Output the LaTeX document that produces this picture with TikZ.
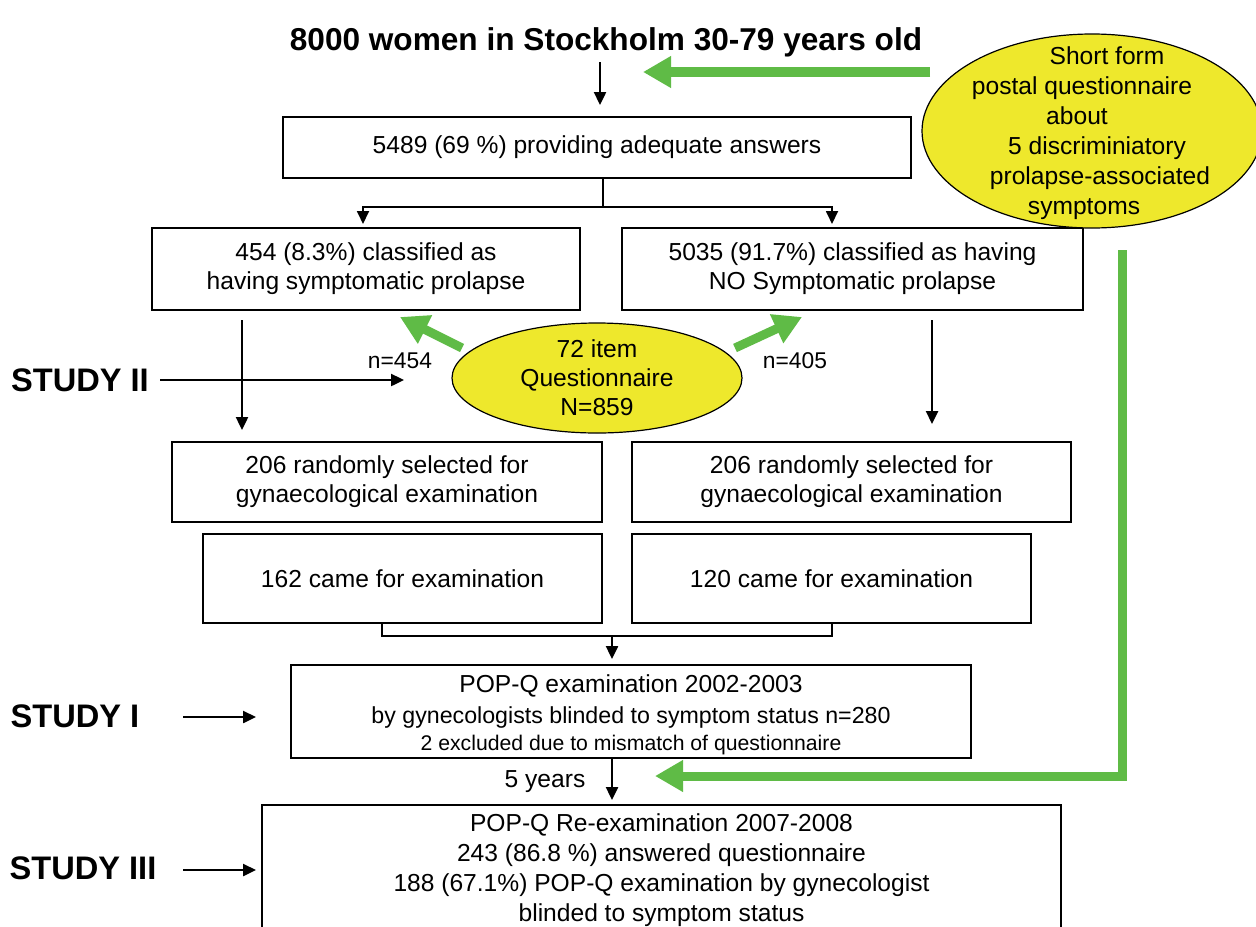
\documentclass[tikz,border=0pt]{standalone}
\usepackage{fontspec}
\setmainfont{Liberation Sans}
\usetikzlibrary{arrows.meta,shapes.geometric,calc}
\definecolor{ggreen}{HTML}{5FBB46}
\definecolor{gyellow}{HTML}{EEE82C}
\tikzset{
  box/.style={draw=black, line width=0.7pt, rectangle, inner sep=0pt, align=center,
    font=\fontsize{12.3}{14.5}\selectfont},
  txt/.style={inner sep=0pt, align=center, font=\fontsize{12.3}{14.5}\selectfont},
  small/.style={inner sep=0pt, font=\fontsize{11.4}{13}\selectfont},
  study/.style={inner sep=0pt, font=\fontsize{16.3}{18}\selectfont\bfseries},
  yell/.style={ellipse, draw=black, line width=0.6pt, fill=gyellow, inner sep=0pt},
  conn/.style={line width=0.8pt},
  arr/.style={line width=1.2pt, -{Triangle[length=6.5pt,width=6pt]}},
  garr/.style={draw=ggreen, line width=5pt, -{Triangle[length=14pt,width=15pt]}},
}
\begin{document}
\begin{tikzpicture}[x=0.5pt,y=-0.5pt]
\clip (0,0) rectangle (1256,926);
\useasboundingbox (0,0) rectangle (1256,926);
\fill[white] (0,0) rectangle (1256,926);

% title
\node[inner sep=0pt, font=\fontsize{15.8}{18}\selectfont\bfseries] (title) at (606,42)
  {8000 women in Stockholm 30-79 years old};

% boxes
\node[box, minimum width=314pt, minimum height=30.5pt] (b1) at (597,147.5)
  {\raisebox{-1.5pt}{5489 (69 \%) providing adequate answers}};
\node[box, minimum width=214pt, minimum height=41pt] (bL) at (366,269)
  {454 (8.3\%) classified as\\having symptomatic prolapse};
\node[box, minimum width=230.5pt, minimum height=41pt] (bR) at (852.5,269)
  {5035 (91.7\%) classified as having\\NO Symptomatic prolapse};
\node[box, minimum width=215pt, minimum height=40pt] (bL2) at (387,482)
  {206 randomly selected for\\gynaecological examination};
\node[box, minimum width=219.5pt, minimum height=40pt] (bR2) at (851.5,482)
  {206 randomly selected for\\gynaecological examination};
\node[box, minimum width=199.5pt, minimum height=44.5pt] (bL3) at (402.5,578.5)
  {162 came for examination};
\node[box, minimum width=199.5pt, minimum height=44.5pt] (bR3) at (831.5,578.5)
  {120 came for examination};
\node[box, minimum width=340pt, minimum height=46.5pt] (bP) at (631,711.5) {};
\node[txt] (tP1) at (631,686) {\fontsize{12.3}{14}\selectfont POP-Q examination 2002-2003};
\node[txt] (tP2) at (631,717) {\fontsize{11.6}{14}\selectfont by gynecologists blinded to symptom status n=280};
\node[txt] (tP3) at (631,745) {\fontsize{10.6}{12}\selectfont 2 excluded due to mismatch of questionnaire};
\node[box, minimum width=399.5pt, minimum height=80pt] (bIII) at (661.5,885) {};
\node[txt, font=\fontsize{12.3}{15}\selectfont] (tIII) at (661.5,870)
  {POP-Q Re-examination 2007-2008\\243 (86.8 \%) answered questionnaire\\188 (67.1\%) POP-Q examination by gynecologist\\blinded to symptom status};

% study labels
\node[study] (s2) at (80,380) {STUDY II};
\node[study] (s1) at (75,716) {STUDY I};
\node[study] (s3) at (83,868) {STUDY III};
\node[small] (n454) at (400,361) {n=454};
\node[small] (n405) at (795,361) {n=405};
\node[txt] (yrs) at (545,782) {5 years};

% coordinates
\coordinate (tA) at (600,62);
\coordinate (tB) at (600,105);
\coordinate (split) at (603,207);
\coordinate (inL) at (363,224);
\coordinate (inR) at (832,224);
\coordinate (lv1) at (242,320);
\coordinate (lv2) at (242,430);
\coordinate (rv1) at (932,320);
\coordinate (rv2) at (932,424);
\coordinate (s2a) at (160,380);
\coordinate (s2b) at (404,380);
\coordinate (s1a) at (183,717);
\coordinate (s1b) at (256,717);
\coordinate (s3a) at (183,870);
\coordinate (s3b) at (256,870);
\coordinate (brL) at (382,623);
\coordinate (brR) at (832,623);
\coordinate (brM) at (612,636);
\coordinate (brT) at (612,659);
\coordinate (pA) at (612,758);
\coordinate (pB) at (612,800);

% black connectors
\draw[arr] (tA) -- (tB);
\draw[conn] (b1.south -| split) -- (split);
\draw[arr, line width=0.9pt] (split) -| (inL);
\draw[arr, line width=0.9pt] (split) -| (inR);
\draw[arr] (lv1) -- (lv2);
\draw[arr] (rv1) -- (rv2);
\draw[arr] (s2a) -- (s2b);
\draw[arr] (s1a) -- (s1b);
\draw[arr] (s3a) -- (s3b);
\draw[conn] (brL) -- (brL |- brM) -- (brR |- brM) -- (brR);
\draw[arr] (brM) -- (brT);
\draw[arr] (pA) -- (pB);

% green arrows
\coordinate (gq1) at (930,72);
\coordinate (gq2) at (643,72);
\draw[garr] (gq1) -- (gq2);
\coordinate (gv1) at (1122,250);
\coordinate (gv2) at (1122,776);
\coordinate (gv3) at (655,776);
\draw[draw=ggreen, line width=4.5pt, line join=miter, -{Triangle[length=14pt,width=15pt]}]
  (gv1) -- (gv2) -- (gv3);

% ellipse 72 item
\node[yell, minimum width=145pt, minimum height=55pt] (q72) at (597,378) {};
\node[txt] (q72t) at (597,378) {72 item\\Questionnaire\\N=859};
\coordinate (gl1) at (462,348);
\coordinate (gl2) at (400,317);
\coordinate (gr1) at (735,348);
\coordinate (gr2) at (802,317);
\draw[garr, line width=4.5pt] (gl1) -- (gl2);
\draw[garr, line width=4.5pt] (gr1) -- (gr2);

% short form ellipse
\node[yell, minimum width=170pt, minimum height=97pt] (sf) at (1092,131) {};
\node[txt, font=\fontsize{12.3}{15}\selectfont] (sft) at (1090,133)
  {\hspace*{17pt}Short form\\\hspace*{-8pt}postal questionnaire\\\hspace*{-13pt}about\\\hspace*{7pt}5 discriminiatory\\\hspace*{10pt}prolapse-associated\\\hspace*{-6pt}symptoms};
\end{tikzpicture}
\end{document}
